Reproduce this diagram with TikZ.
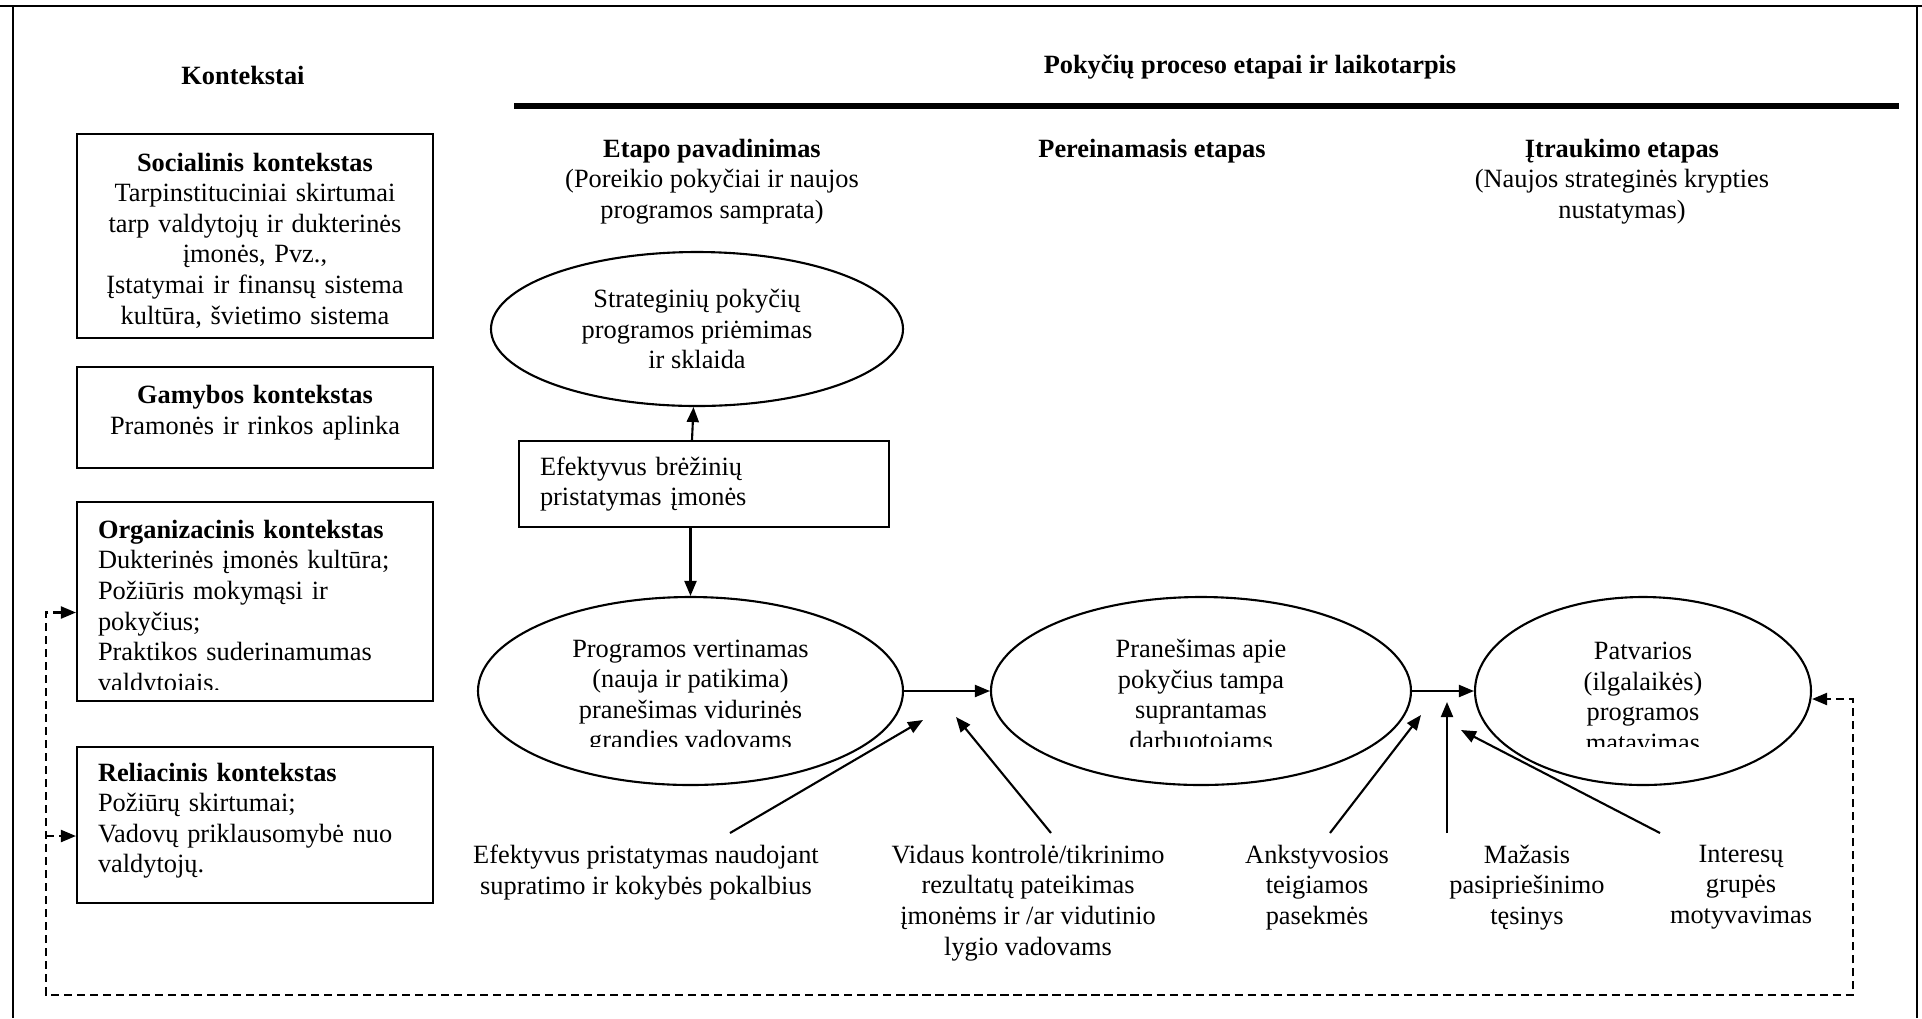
\documentclass[tikz,border=0pt]{standalone}
\usepackage{fontspec}
\setmainfont{Liberation Serif}
\usetikzlibrary{shapes.geometric,arrows.meta}

\begin{document}
\begin{tikzpicture}[line width=0.6pt,
  >={Triangle[length=1.5mm,width=1.2mm]},
  every node/.style={font=\fontsize{7.5}{8.7}\selectfont, inner sep=0pt},
  box/.style={draw, minimum width=3.56cm, inner xsep=0.21cm, text width=3.14cm},
  oval/.style={draw, ellipse, minimum height=1.88cm},
  fb/.style={dash pattern=on 2.3pt off 1.4pt},
  lbl/.style={align=center, anchor=north}]
\useasboundingbox (0,0) rectangle (19.22,-10.18);

\draw (0,-0.06) -- (19.22,-0.06);
\draw (0.13,-0.06) -- (0.13,-10.18);
\draw (19.17,-0.06) -- (19.17,-10.18);

\node (kont) at (2.43,-0.75) {\textbf{Kontekstai}};
\node (proc) at (12.50,-0.67) {\textbf{Pokyčių proceso etapai ir laikotarpis}};
\draw[line width=1.7pt] (5.14,-1.06) -- (18.99,-1.06);

\node[lbl] (st1) at (7.12,-1.38) {\textbf{Etapo pavadinimas}\\(Poreikio pokyčiai ir naujos\\programos samprata)};
\node[lbl] (st2) at (11.52,-1.38) {\textbf{Pereinamasis etapas}};
\node[lbl] (st3) at (16.22,-1.38) {\textbf{Įtraukimo etapas}\\(Naujos strateginės krypties\\nustatymas)};

\node[box, align=center, minimum height=2.04cm] (soc) at (2.55,-2.36)
  {\rule{0pt}{7.8pt}\textbf{Socialinis kontekstas}\\Tarpinstituciniai skirtumai\\tarp valdytojų ir dukterinės\\įmonės, Pvz.,\\Įstatymai ir finansų sistema\\kultūra, švietimo sistema};
\node[box, align=center, minimum height=1.01cm] (gam) at (2.55,-4.175)
  {\textbf{Gamybos kontekstas}\\Pramonės ir rinkos aplinka\rule[-4.5pt]{0pt}{0pt}};
\node[box, minimum height=1.99cm] (org) at (2.55,-6.015) {};
\begin{scope}
\clip (0.77,-5.02) rectangle (4.33,-6.89);
\node[align=left, text width=3.14cm] (orgt) at ([yshift=-0.07cm]org)
  {\textbf{Organizacinis kontekstas}\\Dukterinės įmonės kultūra;\\Požiūris mokymąsi ir\\pokyčius;\\Praktikos suderinamumas\\valdytojais.};
\end{scope}
\node[box, align=left, minimum height=1.56cm] (rel) at (2.55,-8.25)
  {\textbf{Reliacinis kontekstas}\\Požiūrų skirtumai;\\Vadovų priklausomybė nuo\\valdytojų.\rule[-4pt]{0pt}{0pt}};

\node[oval, minimum width=4.12cm, minimum height=1.54cm, align=center] (e0) at (6.97,-3.29)
  {Strateginių pokyčių\\programos priėmimas\\ir sklaida};
\node[draw, minimum width=3.70cm, minimum height=0.86cm, inner xsep=0.21cm, text width=3.28cm, align=left] (eff) at (7.04,-4.84)
  {Efektyvus brėžinių\\pristatymas įmonės};

\node[oval, minimum width=4.25cm] (e1) at (6.905,-6.91) {};
\node[oval, minimum width=4.20cm] (e2) at (12.01,-6.91) {};
\node[oval, minimum width=3.36cm] (e3) at (16.43,-6.91) {};
\begin{scope}
\clip (4.7,-5.9) rectangle (18.2,-7.46);
\node[align=center] (e1t) at ([yshift=-0.06cm]e1) {Programos vertinamas\\(nauja ir patikima)\\pranešimas vidurinės\\grandies vadovams};
\node[align=center] (e2t) at ([yshift=-0.06cm]e2) {Pranešimas apie\\pokyčius tampa\\suprantamas\\darbuotojams};
\node[align=center] (e3t) at ([yshift=-0.06cm]e3) {Patvarios\\(ilgalaikės)\\programos\\matavimas};
\end{scope}

\draw[->] ([xshift=-0.12cm]eff.north) -- (e0);
\draw[->] (eff.south -| e1) -- (e1);
\draw[->] (e1) -- (e2);
\draw[->] (e2) -- (e3);

\node[lbl] (l1) at (6.46,-8.44) {Efektyvus pristatymas naudojant\\supratimo ir kokybės pokalbius};
\node[lbl] (l2) at (10.28,-8.44) {Vidaus kontrolė/tikrinimo\\rezultatų pateikimas\\įmonėms ir /ar vidutinio\\lygio vadovams};
\node[lbl] (l3) at (13.17,-8.44) {Ankstyvosios\\teigiamos\\pasekmės};
\node[lbl] (l4) at (15.27,-8.44) {Mažasis\\pasipriešinimo\\tęsinys};
\node[lbl] (l5) at (17.41,-8.44) {Interesų\\grupės\\motyvavimas};

\coordinate (t1) at (9.23,-7.20);
\coordinate (t2) at (9.56,-7.17);
\coordinate (t3) at (14.21,-7.15);
\coordinate (t4) at (14.47,-7.02);
\coordinate (t5) at (14.61,-7.30);
\draw[->] ([xshift=0.84cm,yshift=0.11cm]l1.north) -- (t1);
\draw[->] ([xshift=0.23cm,yshift=0.11cm]l2.north) -- (t2);
\draw[->] ([xshift=0.13cm,yshift=0.11cm]l3.north) -- (t3);
\draw[->] ([xshift=-0.80cm,yshift=0.11cm]l4.north) -- (t4);
\draw[->] ([xshift=-0.81cm,yshift=0.11cm]l5.north) -- (t5);

\coordinate (fbl) at (0.46,-9.95);
\coordinate (fbr) at (18.53,-9.95);
\coordinate (orgin) at ([yshift=-0.11cm]org.west);
\coordinate (relin) at ([yshift=-0.11cm]rel.west);
\draw[fb, <->] (orgin) -| (fbl) -- (fbr) |- ([yshift=-0.08cm]e3.east);
\draw[fb, ->] (relin -| fbl) -- (relin);
\end{tikzpicture}
\end{document}
